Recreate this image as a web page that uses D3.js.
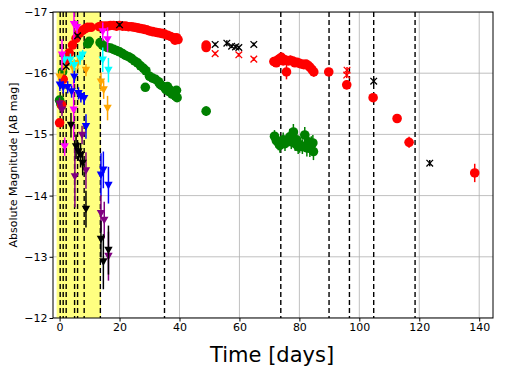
<!DOCTYPE html>
<html>
<head>
<meta charset="utf-8">
<script src="https://cdn.jsdelivr.net/npm/d3@7"></script>
<style>
  body { margin: 0; background: #fff; }
  text { font-family: "DejaVu Sans", sans-serif; }
</style>
</head>
<body>
<svg id="chart" width="505" height="373"></svg>
<script>
// [day, mag, err]
var redPts = [
  [0.0,-15.19,0.06],[0.7,-15.48,0.05],[1.2,-15.9,0.05],[2.3,-16.19,0.05],[3.2,-16.33,0.05],[4.3,-16.46,0.05],
  [5.5,-16.57,0.05],[6.6,-16.65,0.05],[7.7,-16.70,0.05],[8.6,-16.73,0.05],[9.4,-16.75,0.05],[10.5,-16.75,0.05],
  [13.2,-16.76,0.05],[13.9,-16.77,0.08],[15.0,-16.77,0.05],[16.0,-16.77,0.05],[17.0,-16.78,0.05],[18.0,-16.78,0.05],
  [19.0,-16.77,0.05],[20.0,-16.78,0.05],[21.0,-16.77,0.05],[22.0,-16.77,0.05],[23.0,-16.76,0.05],[24.0,-16.76,0.05],
  [25.0,-16.75,0.05],[26.0,-16.74,0.05],[27.0,-16.73,0.05],[28.0,-16.72,0.05],[29.0,-16.71,0.05],[30.0,-16.69,0.05],
  [31.0,-16.68,0.05],[32.0,-16.67,0.05],[33.0,-16.66,0.05],[34.0,-16.65,0.05],[35.0,-16.64,0.05],[36.0,-16.62,0.05],
  [37.0,-16.60,0.05],[38.0,-16.58,0.05],[38.5,-16.54,0.05],[39.0,-16.58,0.05],[39.5,-16.55,0.05],
  [48.9,-16.42,0.04],[48.9,-16.46,0.04],
  [71.5,-16.19,0.05],[72.3,-16.17,0.05],[72.9,-16.22,0.06],[73.5,-16.24,0.06],[74.0,-16.26,0.08],[74.6,-16.2,0.05],
  [75.2,-16.22,0.05],[75.7,-16.02,0.12],[76.3,-16.2,0.05],[77.0,-16.21,0.08],[77.8,-16.2,0.05],[78.5,-16.17,0.05],
  [79.2,-16.18,0.05],[80.0,-16.16,0.05],[80.8,-16.15,0.05],[81.5,-16.14,0.05],[82.2,-16.15,0.06],[82.8,-16.13,0.05],
  [83.5,-16.1,0.05],[84.2,-16.06,0.05],[84.8,-16.02,0.08],
  [89.8,-16.02,0.05],[95.8,-15.81,0.07],[104.6,-15.6,0.06],[112.6,-15.26,0.07],[116.6,-14.87,0.09],[138.5,-14.37,0.15]
];
var greenPts = [
  [0.0,-15.56,0.05],[0.4,-15.5,0.05],[1.0,-16.02,0.05],[9.4,-16.48,0.06],[9.9,-16.52,0.06],[13.5,-16.5,0.05],
  [14.3,-16.46,0.05],[15.0,-16.44,0.05],[16.0,-16.42,0.05],[17.0,-16.41,0.05],[18.0,-16.39,0.05],[19.0,-16.37,0.05],
  [20.0,-16.35,0.05],[21.0,-16.32,0.05],[22.0,-16.29,0.05],[23.0,-16.27,0.05],[24.0,-16.24,0.05],[25.0,-16.2,0.05],
  [26.0,-16.17,0.05],[27.0,-16.12,0.05],[28.0,-16.08,0.05],[28.8,-16.04,0.05],[28.6,-15.77,0.05],[30.0,-15.95,0.06],
  [31.0,-15.92,0.06],[32.0,-15.9,0.06],[33.0,-15.86,0.07],[33.5,-15.82,0.07],[34.0,-15.8,0.07],[35.0,-15.77,0.07],
  [35.5,-15.73,0.07],[36.0,-15.78,0.07],[36.5,-15.7,0.07],[37.0,-15.72,0.07],[37.5,-15.66,0.07],[38.0,-15.68,0.07],
  [38.6,-15.63,0.07],[39.0,-15.72,0.07],[39.2,-15.6,0.07],
  [48.9,-15.38,0.08],
  [71.7,-14.97,0.1],[72.3,-14.9,0.12],[73.0,-14.86,0.12],[73.5,-14.82,0.12],[74.6,-14.91,0.12],[75.2,-14.85,0.12],
  [76.8,-14.96,0.13],[77.3,-14.88,0.12],[78.0,-15.04,0.13],[78.6,-14.85,0.12],[79.1,-14.91,0.13],[79.6,-14.8,0.12],
  [80.1,-14.83,0.13],[81.0,-14.8,0.12],[81.8,-14.99,0.13],[82.5,-14.78,0.14],[83.0,-14.88,0.13],[83.5,-14.77,0.14],
  [84.0,-14.84,0.13],[84.5,-14.86,0.13],[84.7,-14.72,0.14]
];
var magentaPts = [[0.8,-16.3,0.25],[1.7,-14.8,0.15],[4.8,-16.8,0.25],[4.7,-15.4,0.5],[5.8,-16.75,0.1],[14.4,-16.68,0.15],[16.0,-16.55,0.2]];
var cyanPts = [[1.6,-16.22,0.1],[3.6,-16.22,0.1],[4.9,-16.13,0.1],[6.8,-16.24,0.1],[7.7,-16.3,0.08],[14.4,-16.22,0.2],[16.3,-16.05,0.2]];
var orangePts = [[0.0,-15.94,0.1],[1.6,-16.08,0.1],[4.3,-16.1,0.1],[6.0,-16.16,0.1],[8.8,-16.05,0.1],[13.8,-15.86,0.15],[14.7,-15.73,0.15],[16.0,-15.43,0.2]];
var bluePts = [[0.1,-15.81,0.1],[1.2,-15.77,0.1],[2.7,-15.77,0.1],[4.0,-15.7,0.1],[4.9,-15.94,0.1],[6.3,-15.67,0.1],[7.1,-15.62,0.1],[8.2,-15.59,0.1],[8.8,-15.13,0.2],[13.8,-14.34,0.35],[14.6,-14.42,0.3],[16.3,-14.17,0.3]];
var purplePts = [[0.0,-15.5,0.1],[0.8,-15.4,0.1],[5.1,-14.31,0.5],[7.5,-14.99,0.15],[8.8,-14.41,0.3],[13.8,-13.71,0.3],[14.9,-13.6,0.3],[16.3,-13.01,0.4]];
var blackTriPts = [[3.8,-15.15,0.2],[5.5,-14.8,0.2],[6.3,-14.72,0.15],[7.0,-14.66,0.2],[7.7,-14.53,0.2],[8.8,-13.78,0.3],[13.8,-13.29,0.3],[14.6,-12.92,0.45],[16.3,-13.11,0.4]];
var blackXPts = [[2.2,-16.11,0.03],[6.0,-16.61,0.03],[20.0,-16.79,0.03],[51.9,-16.47,0.03],[55.8,-16.49,0.05],[57.4,-16.44,0.03],[58.7,-16.43,0.03],[59.8,-16.42,0.03],[64.8,-16.47,0.03],[104.8,-15.87,0.05],[123.5,-14.53,0.05]];
var redXPts = [[51.9,-16.32,0.03],[59.8,-16.30,0.03],[64.8,-16.23,0.03],[95.8,-15.97,0.05],[95.9,-16.05,0.05]];

var vLines = [0.2, 1.2, 2.2, 5.0, 6.0, 8.2, 13.6, 35.0, 73.8, 89.9, 96.7, 104.8, 118.6];
var shadeSpan = [-1.0, 13.8];
var xTicks = [0, 20, 40, 60, 80, 100, 120, 140];
var yTicks = [-17, -16, -15, -14, -13, -12];

const margin = { top: 12, right: 12, bottom: 55, left: 53 };
const W = 505, H = 373;
const svg = d3.select("#chart");

var x = d3.scaleLinear().domain([-2.2, 144.6]).range([margin.left, W - margin.right]);
var y = d3.scaleLinear().domain([-12, -17]).range([H - margin.bottom, margin.top]);

const plot = svg.append("g");
plot.append("defs").append("clipPath").attr("id", "clip")
  .append("rect").attr("x", margin.left).attr("y", margin.top)
  .attr("width", W - margin.left - margin.right).attr("height", H - margin.top - margin.bottom);

const inner = plot.append("g").attr("clip-path", "url(#clip)");

// grid
inner.selectAll(".gx").data(xTicks).enter().append("line")
  .attr("x1", d => x(d)).attr("x2", d => x(d))
  .attr("y1", margin.top).attr("y2", H - margin.bottom)
  .attr("stroke", "#b0b0b0").attr("stroke-width", 0.8);
inner.selectAll(".gy").data(yTicks).enter().append("line")
  .attr("x1", margin.left).attr("x2", W - margin.right)
  .attr("y1", d => y(d)).attr("y2", d => y(d))
  .attr("stroke", "#b0b0b0").attr("stroke-width", 0.8);

// yellow span
inner.append("rect")
  .attr("x", x(shadeSpan[0])).attr("width", x(shadeSpan[1]) - x(shadeSpan[0]))
  .attr("y", margin.top).attr("height", H - margin.top - margin.bottom)
  .attr("fill", "#ffff80");

// dashed epochs
inner.selectAll(".vl").data(vLines).enter().append("line")
  .attr("x1", d => x(d)).attr("x2", d => x(d))
  .attr("y1", margin.top).attr("y2", H - margin.bottom)
  .attr("stroke", "#000").attr("stroke-width", 1.4).attr("stroke-dasharray", "5,3");

function errBars(data, col) {
  inner.append("g").selectAll("line").data(data).enter().append("line")
    .attr("x1", d => x(d[0])).attr("x2", d => x(d[0]))
    .attr("y1", d => y(d[1] - d[2])).attr("y2", d => y(d[1] + d[2]))
    .attr("stroke", col).attr("stroke-width", 1.5);
}
function circles(data, col, r) {
  errBars(data, col);
  inner.append("g").selectAll("circle").data(data).enter().append("circle")
    .attr("cx", d => x(d[0])).attr("cy", d => y(d[1])).attr("r", r)
    .attr("fill", col);
}
function triangles(data, col) {
  errBars(data, col);
  const s = 4.2;
  inner.append("g").selectAll("path").data(data).enter().append("path")
    .attr("d", d => {
      const cx = x(d[0]), cy = y(d[1]);
      return `M${cx - s},${cy - s * 0.8}L${cx + s},${cy - s * 0.8}L${cx},${cy + s}Z`;
    })
    .attr("fill", col);
}
function crosses(data, col) {
  errBars(data, col);
  const s = 3.3;
  inner.append("g").selectAll("path").data(data).enter().append("path")
    .attr("d", d => {
      const cx = x(d[0]), cy = y(d[1]);
      return `M${cx - s},${cy - s}L${cx + s},${cy + s}M${cx - s},${cy + s}L${cx + s},${cy - s}`;
    })
    .attr("stroke", col).attr("stroke-width", 1.3).attr("fill", "none");
}

circles(greenPts, "#008000", 4.8);
circles(redPts, "#ff0000", 4.8);
triangles(orangePts, "#ffa500");
triangles(cyanPts, "#00ffff");
triangles(magentaPts, "#ff00ff");
triangles(bluePts, "#0000ff");
triangles(purplePts, "#800080");
triangles(blackTriPts, "#000000");
crosses(redXPts, "#ff0000");
crosses(blackXPts, "#000000");

// axes
const xAxis = svg.append("g").attr("transform", `translate(0,${H - margin.bottom})`)
  .call(d3.axisBottom(x).tickValues(xTicks).tickSize(3.5).tickPadding(2).tickFormat(d3.format("d")));
const yAxis = svg.append("g").attr("transform", `translate(${margin.left},0)`)
  .call(d3.axisLeft(y).tickValues(yTicks).tickSize(3.5).tickPadding(2).tickFormat(d => "\u2212" + Math.abs(d)));
[xAxis, yAxis].forEach(a => {
  a.selectAll("text").attr("font-size", 11).attr("fill", "#000").attr("font-family", "DejaVu Sans");
  a.select(".domain").remove();
});

svg.append("rect").attr("x", margin.left).attr("y", margin.top)
  .attr("width", W - margin.left - margin.right).attr("height", H - margin.top - margin.bottom)
  .attr("fill", "none").attr("stroke", "#000").attr("stroke-width", 1);

svg.append("text").attr("x", x(70.9)).attr("y", 362).attr("text-anchor", "middle")
  .attr("font-size", 21).text("Time [days]");
svg.append("text").attr("transform", `translate(17,${(margin.top + H - margin.bottom) / 2}) rotate(-90)`)
  .attr("text-anchor", "middle").attr("font-size", 11).text("Absolute Magnitude [AB mag]");
</script>
</body>
</html>
